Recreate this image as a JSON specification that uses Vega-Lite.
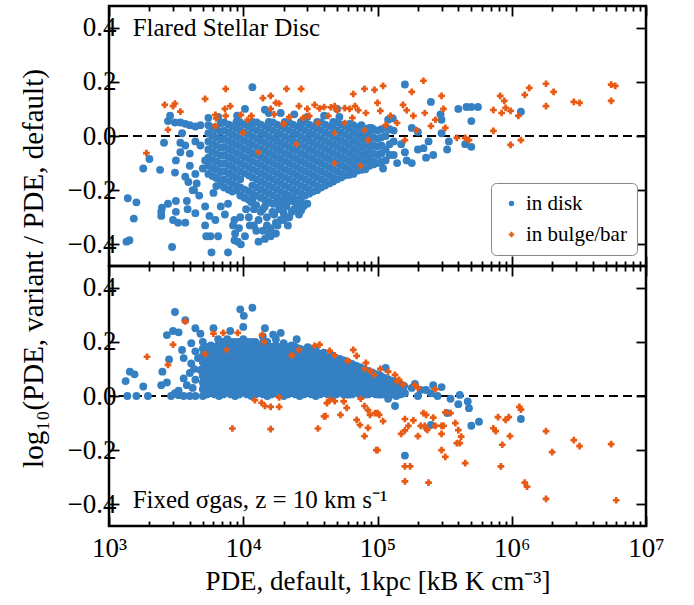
{
"$schema":"https://vega.github.io/schema/vega-lite/v6.json",
"background":"white",
"padding":{"left":17,"top":3,"right":5,"bottom":5},
"bounds":"flush",
"spacing":0,
"config":{"font":"Liberation Serif","view":{"stroke":"black","strokeWidth":2.5},
"axis":{"domain":false,"grid":false,"tickColor":"black","tickWidth":1.8,"labelFont":"Liberation Serif","labelFontSize":27,"labelColor":"black","titleFont":"Liberation Serif","titleFontSize":27,"titleFontWeight":"normal","titleColor":"black"}},
"datasets":{
"ta":[{"x":1350,"y":-0.39},{"x":1420,"y":-0.385},{"x":1380,"y":-0.23},{"x":1600,"y":-0.245},{"x":1530,"y":-0.305},{"x":1800,"y":-0.12},{"x":2000,"y":-0.085},{"x":2400,"y":-0.125},{"x":2570,"y":-0.025},{"x":2750,"y":0.055},{"x":2850,"y":0.075},{"x":2950,"y":-0.41},{"x":2450,"y":-0.28},{"x":2450,"y":-0.295},{"x":2480,"y":-0.265},{"x":2750,"y":-0.25},{"x":3150,"y":-0.28},{"x":3150,"y":-0.24},{"x":3270,"y":-0.32},{"x":3000,"y":-0.31},{"x":3700,"y":-0.32},{"x":3800,"y":-0.24},{"x":3850,"y":-0.27},{"x":4400,"y":-0.285},{"x":5200,"y":-0.26},{"x":5200,"y":-0.33},{"x":5300,"y":-0.37},{"x":5700,"y":-0.37},{"x":6500,"y":-0.37},{"x":5800,"y":-0.43},{"x":7700,"y":-0.43},{"x":8600,"y":-0.385},{"x":9600,"y":-0.4},{"x":9100,"y":-0.39},{"x":8400,"y":-0.33},{"x":8600,"y":-0.31},{"x":7300,"y":-0.29},{"x":6200,"y":-0.31},{"x":5600,"y":-0.295},{"x":6800,"y":-0.26},{"x":7700,"y":-0.25},{"x":4700,"y":-0.22},{"x":6000,"y":-0.21},{"x":4300,"y":-0.2},{"x":3700,"y":-0.15},{"x":3100,"y":-0.135},{"x":3150,"y":-0.09},{"x":3400,"y":-0.06},{"x":3400,"y":-0.025},{"x":3700,"y":-0.035},{"x":3500,"y":0.01},{"x":3100,"y":0.05},{"x":3400,"y":0.05},{"x":3700,"y":0.045},{"x":4000,"y":0.04},{"x":4400,"y":0.035},{"x":4800,"y":0.04},{"x":5500,"y":0.067},{"x":4000,"y":-0.11},{"x":4400,"y":-0.14},{"x":4500,"y":-0.175},{"x":4200,"y":-0.2},{"x":4000,"y":-0.065},{"x":4800,"y":-0.035},{"x":5200,"y":-0.09},{"x":4400,"y":-0.02},{"x":3900,"y":-0.17},{"x":5000,"y":-0.12},
{"x":11000,"y":-0.3},{"x":12000,"y":-0.33},{"x":13000,"y":-0.39},{"x":14000,"y":-0.35},{"x":16000,"y":-0.34},{"x":16000,"y":-0.37},{"x":17500,"y":-0.36},{"x":19000,"y":-0.31},{"x":18000,"y":-0.33},{"x":13500,"y":-0.28},{"x":15000,"y":-0.3},{"x":17000,"y":-0.29},{"x":20000,"y":-0.285},{"x":22000,"y":-0.3},{"x":21000,"y":-0.26},{"x":24000,"y":-0.27},{"x":26000,"y":-0.29},{"x":28000,"y":-0.26},{"x":12500,"y":-0.255},{"x":14500,"y":-0.26},{"x":19000,"y":-0.25},{"x":23000,"y":-0.24},{"x":30000,"y":-0.25},{"x":10500,"y":-0.27},{"x":9500,"y":-0.3},{"x":11500,"y":-0.245},{"x":10300,"y":-0.37},{"x":8700,"y":-0.36},{"x":9300,"y":-0.34},
{"x":12000,"y":-0.27},{"x":13000,"y":-0.31},{"x":14000,"y":-0.27},{"x":15000,"y":-0.33},{"x":16500,"y":-0.28},{"x":17500,"y":-0.32},{"x":18500,"y":-0.27},{"x":20000,"y":-0.31},{"x":21500,"y":-0.33},{"x":23000,"y":-0.28},{"x":25000,"y":-0.255},{"x":27000,"y":-0.275},{"x":15500,"y":-0.36},{"x":14500,"y":-0.38},{"x":12500,"y":-0.35},{"x":11200,"y":-0.33},{"x":10200,"y":-0.138},{"x":11000,"y":-0.145},
{"x":5500,"y":0.04},{"x":5500,"y":0.01},{"x":5500,"y":-0.02},{"x":5500,"y":-0.05},{"x":5500,"y":-0.08},{"x":5500,"y":-0.11},{"x":5500,"y":-0.14},
{"x":5900,"y":0.032},{"x":5900,"y":0.002},{"x":5900,"y":-0.028},{"x":5900,"y":-0.058},{"x":5900,"y":-0.088},{"x":5900,"y":-0.118},{"x":5900,"y":-0.148},
{"x":6300,"y":0.025},{"x":6300,"y":-0.005},{"x":6300,"y":-0.035},{"x":6300,"y":-0.065},{"x":6300,"y":-0.095},{"x":6300,"y":-0.125},{"x":6300,"y":-0.155},{"x":6300,"y":-0.185},
{"x":6800,"y":0.047},{"x":6800,"y":0.017},{"x":6800,"y":-0.013},{"x":6800,"y":-0.043},{"x":6800,"y":-0.073},{"x":6800,"y":-0.103},{"x":6800,"y":-0.133},{"x":6800,"y":-0.163},{"x":6800,"y":-0.18},
{"x":7200,"y":0.05},{"x":7200,"y":0.02},{"x":7200,"y":-0.01},{"x":7200,"y":-0.04},{"x":7200,"y":-0.07},{"x":7200,"y":-0.1},{"x":7200,"y":-0.13},{"x":7200,"y":-0.16},{"x":7200,"y":-0.19},
{"x":7800,"y":0.042},{"x":7800,"y":0.012},{"x":7800,"y":-0.018},{"x":7800,"y":-0.048},{"x":7800,"y":-0.078},{"x":7800,"y":-0.108},{"x":7800,"y":-0.138},{"x":7800,"y":-0.168},{"x":7800,"y":-0.198},
{"x":8300,"y":0.035},{"x":8300,"y":0.005},{"x":8300,"y":-0.025},{"x":8300,"y":-0.055},{"x":8300,"y":-0.085},{"x":8300,"y":-0.115},{"x":8300,"y":-0.145},{"x":8300,"y":-0.175},{"x":8300,"y":-0.205},
{"x":8900,"y":0.052},{"x":8900,"y":0.027},{"x":8900,"y":-0.003},{"x":8900,"y":-0.033},{"x":8900,"y":-0.063},{"x":8900,"y":-0.093},{"x":8900,"y":-0.123},{"x":8900,"y":-0.153},{"x":8900,"y":-0.183},{"x":8900,"y":-0.2},
{"x":9500,"y":0.05},{"x":9500,"y":0.02},{"x":9500,"y":-0.01},{"x":9500,"y":-0.04},{"x":9500,"y":-0.07},{"x":9500,"y":-0.1},{"x":9500,"y":-0.13},{"x":9500,"y":-0.16},{"x":9500,"y":-0.19},{"x":9500,"y":-0.22},
{"x":10200,"y":0.042},{"x":10200,"y":0.012},{"x":10200,"y":-0.018},{"x":10200,"y":-0.048},{"x":10200,"y":-0.078},{"x":10200,"y":-0.108},{"x":10200,"y":-0.198},{"x":10200,"y":-0.228},
{"x":11000,"y":0.035},{"x":11000,"y":0.005},{"x":11000,"y":-0.025},{"x":11000,"y":-0.055},{"x":11000,"y":-0.085},{"x":11000,"y":-0.115},{"x":11000,"y":-0.205},{"x":11000,"y":-0.235},
{"x":11700,"y":0.052},{"x":11700,"y":0.027},{"x":11700,"y":-0.003},{"x":11700,"y":-0.033},{"x":11700,"y":-0.063},{"x":11700,"y":-0.093},{"x":11700,"y":-0.123},{"x":11700,"y":-0.153},{"x":11700,"y":-0.183},{"x":11700,"y":-0.213},{"x":11700,"y":-0.235},
{"x":12600,"y":0.05},{"x":12600,"y":0.02},{"x":12600,"y":-0.01},{"x":12600,"y":-0.04},{"x":12600,"y":-0.07},{"x":12600,"y":-0.1},{"x":12600,"y":-0.13},{"x":12600,"y":-0.16},{"x":12600,"y":-0.19},{"x":12600,"y":-0.22},
{"x":13500,"y":0.042},{"x":13500,"y":0.012},{"x":13500,"y":-0.018},{"x":13500,"y":-0.048},{"x":13500,"y":-0.078},{"x":13500,"y":-0.108},{"x":13500,"y":-0.138},{"x":13500,"y":-0.168},{"x":13500,"y":-0.198},{"x":13500,"y":-0.228},
{"x":14500,"y":0.035},{"x":14500,"y":0.005},{"x":14500,"y":-0.025},{"x":14500,"y":-0.055},{"x":14500,"y":-0.085},{"x":14500,"y":-0.115},{"x":14500,"y":-0.145},{"x":14500,"y":-0.175},{"x":14500,"y":-0.205},{"x":14500,"y":-0.235},
{"x":15500,"y":0.052},{"x":15500,"y":0.027},{"x":15500,"y":-0.003},{"x":15500,"y":-0.033},{"x":15500,"y":-0.063},{"x":15500,"y":-0.093},{"x":15500,"y":-0.123},{"x":15500,"y":-0.153},{"x":15500,"y":-0.183},{"x":15500,"y":-0.213},{"x":15500,"y":-0.243},
{"x":16600,"y":0.05},{"x":16600,"y":0.02},{"x":16600,"y":-0.01},{"x":16600,"y":-0.04},{"x":16600,"y":-0.07},{"x":16600,"y":-0.1},{"x":16600,"y":-0.13},{"x":16600,"y":-0.16},{"x":16600,"y":-0.19},{"x":16600,"y":-0.22},{"x":16600,"y":-0.25},
{"x":17800,"y":0.042},{"x":17800,"y":0.012},{"x":17800,"y":-0.018},{"x":17800,"y":-0.048},{"x":17800,"y":-0.078},{"x":17800,"y":-0.108},{"x":17800,"y":-0.138},{"x":17800,"y":-0.168},{"x":17800,"y":-0.198},{"x":17800,"y":-0.228},{"x":17800,"y":-0.25},
{"x":19000,"y":0.035},{"x":19000,"y":0.005},{"x":19000,"y":-0.025},{"x":19000,"y":-0.055},{"x":19000,"y":-0.085},{"x":19000,"y":-0.115},{"x":19000,"y":-0.145},{"x":19000,"y":-0.175},{"x":19000,"y":-0.205},{"x":19000,"y":-0.235},
{"x":20400,"y":0.052},{"x":20400,"y":0.027},{"x":20400,"y":-0.003},{"x":20400,"y":-0.033},{"x":20400,"y":-0.063},{"x":20400,"y":-0.093},{"x":20400,"y":-0.123},{"x":20400,"y":-0.153},{"x":20400,"y":-0.183},{"x":20400,"y":-0.213},{"x":20400,"y":-0.235},
{"x":21900,"y":0.05},{"x":21900,"y":0.02},{"x":21900,"y":-0.01},{"x":21900,"y":-0.04},{"x":21900,"y":-0.07},{"x":21900,"y":-0.1},{"x":21900,"y":-0.13},{"x":21900,"y":-0.16},{"x":21900,"y":-0.19},{"x":21900,"y":-0.22},
{"x":23400,"y":0.042},{"x":23400,"y":0.012},{"x":23400,"y":-0.018},{"x":23400,"y":-0.048},{"x":23400,"y":-0.078},{"x":23400,"y":-0.108},{"x":23400,"y":-0.138},{"x":23400,"y":-0.168},{"x":23400,"y":-0.198},{"x":23400,"y":-0.228},
{"x":25100,"y":0.035},{"x":25100,"y":0.005},{"x":25100,"y":-0.025},{"x":25100,"y":-0.055},{"x":25100,"y":-0.085},{"x":25100,"y":-0.115},{"x":25100,"y":-0.145},{"x":25100,"y":-0.175},{"x":25100,"y":-0.205},{"x":25100,"y":-0.235},
{"x":26900,"y":0.052},{"x":26900,"y":0.027},{"x":26900,"y":-0.003},{"x":26900,"y":-0.033},{"x":26900,"y":-0.063},{"x":26900,"y":-0.093},{"x":26900,"y":-0.123},{"x":26900,"y":-0.153},{"x":26900,"y":-0.183},{"x":26900,"y":-0.213},{"x":26900,"y":-0.235},
{"x":28800,"y":0.05},{"x":28800,"y":0.02},{"x":28800,"y":-0.01},{"x":28800,"y":-0.04},{"x":28800,"y":-0.07},{"x":28800,"y":-0.1},{"x":28800,"y":-0.13},{"x":28800,"y":-0.16},{"x":28800,"y":-0.19},{"x":28800,"y":-0.22},
{"x":30900,"y":0.042},{"x":30900,"y":0.012},{"x":30900,"y":-0.018},{"x":30900,"y":-0.048},{"x":30900,"y":-0.078},{"x":30900,"y":-0.108},{"x":30900,"y":-0.138},{"x":30900,"y":-0.168},{"x":30900,"y":-0.198},{"x":30900,"y":-0.213},
{"x":33100,"y":0.035},{"x":33100,"y":0.005},{"x":33100,"y":-0.025},{"x":33100,"y":-0.055},{"x":33100,"y":-0.085},{"x":33100,"y":-0.115},{"x":33100,"y":-0.145},{"x":33100,"y":-0.175},{"x":33100,"y":-0.205},
{"x":35500,"y":0.052},{"x":35500,"y":0.027},{"x":35500,"y":-0.003},{"x":35500,"y":-0.033},{"x":35500,"y":-0.063},{"x":35500,"y":-0.093},{"x":35500,"y":-0.123},{"x":35500,"y":-0.153},{"x":35500,"y":-0.183},{"x":35500,"y":-0.2},
{"x":38000,"y":0.05},{"x":38000,"y":0.02},{"x":38000,"y":-0.01},{"x":38000,"y":-0.04},{"x":38000,"y":-0.07},{"x":38000,"y":-0.1},{"x":38000,"y":-0.13},{"x":38000,"y":-0.16},{"x":38000,"y":-0.19},
{"x":40700,"y":0.042},{"x":40700,"y":0.012},{"x":40700,"y":-0.018},{"x":40700,"y":-0.048},{"x":40700,"y":-0.078},{"x":40700,"y":-0.108},{"x":40700,"y":-0.138},{"x":40700,"y":-0.168},{"x":40700,"y":-0.183},
{"x":43700,"y":0.035},{"x":43700,"y":0.005},{"x":43700,"y":-0.025},{"x":43700,"y":-0.055},{"x":43700,"y":-0.085},{"x":43700,"y":-0.115},{"x":43700,"y":-0.145},{"x":43700,"y":-0.175},
{"x":46800,"y":0.052},{"x":46800,"y":0.027},{"x":46800,"y":-0.003},{"x":46800,"y":-0.033},{"x":46800,"y":-0.063},{"x":46800,"y":-0.093},{"x":46800,"y":-0.123},{"x":46800,"y":-0.153},{"x":46800,"y":-0.168},
{"x":50100,"y":0.05},{"x":50100,"y":0.02},{"x":50100,"y":-0.01},{"x":50100,"y":-0.04},{"x":50100,"y":-0.07},{"x":50100,"y":-0.1},{"x":50100,"y":-0.13},{"x":50100,"y":-0.16},
{"x":53700,"y":0.042},{"x":53700,"y":0.012},{"x":53700,"y":-0.018},{"x":53700,"y":-0.048},{"x":53700,"y":-0.078},{"x":53700,"y":-0.108},{"x":53700,"y":-0.138},{"x":53700,"y":-0.153},
{"x":57500,"y":0.035},{"x":57500,"y":0.005},{"x":57500,"y":-0.025},{"x":57500,"y":-0.055},{"x":57500,"y":-0.085},{"x":57500,"y":-0.115},{"x":57500,"y":-0.145},
{"x":61700,"y":0.045},{"x":61700,"y":0.027},{"x":61700,"y":-0.003},{"x":61700,"y":-0.033},{"x":61700,"y":-0.063},{"x":61700,"y":-0.093},{"x":61700,"y":-0.123},{"x":61700,"y":-0.143},
{"x":66100,"y":0.04},{"x":66100,"y":0.01},{"x":66100,"y":-0.02},{"x":66100,"y":-0.05},{"x":66100,"y":-0.08},{"x":66100,"y":-0.11},{"x":66100,"y":-0.14},
{"x":70800,"y":0.032},{"x":70800,"y":0.002},{"x":70800,"y":-0.028},{"x":70800,"y":-0.058},{"x":70800,"y":-0.088},{"x":70800,"y":-0.118},{"x":70800,"y":-0.128},
{"x":75900,"y":0.04},{"x":75900,"y":0.017},{"x":75900,"y":-0.013},{"x":75900,"y":-0.043},{"x":75900,"y":-0.073},{"x":75900,"y":-0.103},{"x":75900,"y":-0.125},
{"x":81300,"y":0.027},{"x":81300,"y":-0.003},{"x":81300,"y":-0.033},{"x":81300,"y":-0.063},{"x":81300,"y":-0.093},{"x":81300,"y":-0.123},
{"x":87100,"y":0.03},{"x":87100,"y":0.01},{"x":87100,"y":-0.02},{"x":87100,"y":-0.05},{"x":87100,"y":-0.08},{"x":87100,"y":-0.11},
{"x":93300,"y":0.025},{"x":93300,"y":-0.005},{"x":93300,"y":-0.035},{"x":93300,"y":-0.065},{"x":93300,"y":-0.095},{"x":93300,"y":-0.105},
{"x":100000,"y":0.02},{"x":100000,"y":-0.01},{"x":100000,"y":-0.04},{"x":100000,"y":-0.07},{"x":100000,"y":-0.1},
{"x":107000,"y":0.025},{"x":107000,"y":-0.005},{"x":107000,"y":-0.035},{"x":107000,"y":-0.065},{"x":107000,"y":-0.095},
{"x":115000,"y":0.03},{"x":115000,"y":0.0},{"x":115000,"y":-0.05},{"x":115000,"y":-0.09},
{"x":123000,"y":0.025},{"x":123000,"y":-0.03},{"x":123000,"y":-0.07},
{"x":132000,"y":0.02},{"x":132000,"y":-0.02},{"x":132000,"y":-0.07},
{"x":160000,"y":0.19},{"x":250000,"y":0.126},{"x":300000,"y":0.06},{"x":295000,"y":0.08},{"x":400000,"y":0.1},{"x":460000,"y":0.107},{"x":500000,"y":0.107},{"x":560000,"y":0.107},{"x":500000,"y":0.055},{"x":1170000,"y":0.09},{"x":450000,"y":-0.03},{"x":500000,"y":-0.04},{"x":340000,"y":-0.02},{"x":330000,"y":-0.05},{"x":240000,"y":-0.02},{"x":230000,"y":-0.08},{"x":260000,"y":-0.07},{"x":220000,"y":-0.045},{"x":300000,"y":0.01},{"x":200000,"y":-0.05},{"x":180000,"y":-0.1},{"x":165000,"y":-0.09},{"x":120000,"y":0.06},{"x":130000,"y":0.065},{"x":180000,"y":0.03},{"x":200000,"y":0.015},{"x":90000,"y":0.03},{"x":50000,"y":0.1},{"x":52000,"y":0.07},{"x":150000,"y":-0.03},{"x":140000,"y":-0.1},{"x":110000,"y":-0.12},{"x":160000,"y":-0.06},
{"x":11700,"y":0.18},{"x":10300,"y":0.1},{"x":14500,"y":0.097},{"x":15500,"y":0.085},{"x":19000,"y":0.085},{"x":6500,"y":0.07},{"x":9000,"y":0.075},{"x":24000,"y":0.08},{"x":30000,"y":0.07},{"x":40000,"y":0.075}],
"tb":[{"x":1900,"y":-0.063},{"x":2750,"y":0.023},{"x":2600,"y":0.115},{"x":3000,"y":0.11},{"x":3100,"y":0.12},{"x":3400,"y":0.09},{"x":5200,"y":0.137},{"x":6200,"y":0.078},{"x":6300,"y":0.065},{"x":7300,"y":0.1},{"x":7400,"y":0.074},{"x":7400,"y":0.174},{"x":8000,"y":0.11},{"x":9600,"y":0.078},{"x":11500,"y":0.074},{"x":10800,"y":0.06},{"x":14000,"y":0.14},{"x":16000,"y":0.148},{"x":17500,"y":0.122},{"x":18500,"y":0.12},{"x":21000,"y":0.174},{"x":27000,"y":0.174},{"x":26000,"y":0.11},{"x":16000,"y":0.1},{"x":17000,"y":0.08},{"x":20000,"y":0.045},{"x":22000,"y":0.07},{"x":6200,"y":0.037},{"x":10000,"y":0.012},{"x":30000,"y":0.1},{"x":34000,"y":0.115},{"x":37000,"y":0.102},{"x":40000,"y":0.107},{"x":45000,"y":0.106},{"x":48000,"y":0.11},{"x":50000,"y":0.095},{"x":57000,"y":0.103},{"x":62000,"y":0.1},{"x":66000,"y":0.155},{"x":68000,"y":0.11},{"x":72000,"y":0.095},{"x":80000,"y":0.174},{"x":82000,"y":0.085},{"x":95000,"y":0.17},{"x":100000,"y":0.122},{"x":105000,"y":0.093},{"x":110000,"y":0.185},{"x":115000,"y":0.04},{"x":125000,"y":0.074},{"x":140000,"y":0.048},{"x":155000,"y":0.115},{"x":165000,"y":0.095},{"x":180000,"y":0.163},{"x":185000,"y":0.074},{"x":195000,"y":0.022},{"x":220000,"y":0.204},{"x":225000,"y":0.085},{"x":250000,"y":0.037},{"x":270000,"y":0.06},{"x":300000,"y":0.148},{"x":310000,"y":0.1},{"x":320000,"y":0.03},{"x":390000,"y":-0.007},{"x":450000,"y":-0.007},{"x":480000,"y":-0.015},{"x":730000,"y":0.096},{"x":820000,"y":0.148},{"x":880000,"y":0.13},{"x":900000,"y":0.104},{"x":840000,"y":0.085},{"x":980000,"y":0.093},{"x":730000,"y":0.019},{"x":980000,"y":-0.033},{"x":1170000,"y":-0.015},{"x":1120000,"y":0.074},{"x":1250000,"y":0.152},{"x":1350000,"y":0.178},{"x":1800000,"y":0.193},{"x":2050000,"y":0.163},{"x":1800000,"y":0.11},{"x":2900000,"y":0.126},{"x":3200000,"y":0.122},{"x":5500000,"y":0.19},{"x":5900000,"y":0.185},{"x":5500000,"y":0.13},{"x":160000,"y":-0.015},{"x":85000,"y":-0.015},{"x":80000,"y":0.022},{"x":48000,"y":0.011},{"x":57000,"y":0.048},{"x":65000,"y":0.067},{"x":43000,"y":0.074},{"x":36000,"y":0.048},{"x":31000,"y":0.074},{"x":28000,"y":0.067},{"x":48000,"y":-0.1},{"x":75000,"y":-0.11},{"x":25000,"y":-0.03},{"x":13000,"y":-0.06}],
"ba":[{"x":1330,"y":0.055},{"x":1430,"y":0.09},{"x":1550,"y":0.08},{"x":1370,"y":0.0},{"x":1600,"y":0.0},{"x":1950,"y":0.0},{"x":1800,"y":0.035},{"x":2450,"y":0.04},{"x":2700,"y":0.05},{"x":2500,"y":0.09},{"x":2800,"y":0.135},{"x":2700,"y":0.225},{"x":3100,"y":0.31},{"x":3000,"y":0.24},{"x":3300,"y":0.235},{"x":3700,"y":0.28},{"x":2900,"y":0.0},{"x":3100,"y":0.01},{"x":3300,"y":0.003},{"x":3600,"y":0.0},{"x":4100,"y":0.195},{"x":4400,"y":0.165},{"x":3500,"y":0.17},{"x":3600,"y":0.14},{"x":4100,"y":0.12},{"x":4000,"y":0.085},{"x":3600,"y":0.065},{"x":3300,"y":0.02},{"x":4400,"y":0.06},{"x":4800,"y":0.096},{"x":4800,"y":0.23},{"x":4400,"y":0.25},{"x":6000,"y":0.25},{"x":6500,"y":0.21},{"x":8000,"y":0.24},{"x":9500,"y":0.32},{"x":10100,"y":0.296},{"x":11700,"y":0.326},{"x":10000,"y":0.255},{"x":14000,"y":0.22},{"x":14500,"y":0.25},{"x":16700,"y":0.226},{"x":19000,"y":0.233},{"x":17500,"y":0.21},{"x":25000,"y":0.21},{"x":4000,"y":0.0},{"x":4400,"y":0.0},{"x":4200,"y":0.03},{"x":3800,"y":0.04},{"x":4600,"y":0.14},{"x":4300,"y":0.1},
{"x":115000,"y":0.104},{"x":160000,"y":0.01},{"x":180000,"y":0.03},{"x":210000,"y":0.022},{"x":230000,"y":0.022},{"x":300000,"y":0.033},{"x":250000,"y":0.01},{"x":280000,"y":0.0},{"x":350000,"y":-0.01},{"x":410000,"y":0.004},{"x":470000,"y":-0.02},{"x":480000,"y":-0.045},{"x":570000,"y":-0.095},{"x":500000,"y":-0.11},{"x":330000,"y":-0.063},{"x":250000,"y":-0.107},{"x":160000,"y":-0.22},{"x":135000,"y":-0.037},{"x":120000,"y":-0.01},{"x":1170000,"y":-0.085},{"x":400000,"y":-0.03},{"x":200000,"y":0.0},{"x":145000,"y":0.02},{"x":260000,"y":0.04},{"x":190000,"y":0.045},
{"x":5000,"y":0},{"x":5000,"y":0.025},{"x":5000,"y":0.05},{"x":5000,"y":0.075},{"x":5000,"y":0.1},{"x":5000,"y":0.125},{"x":5000,"y":0.15},{"x":5000,"y":0.175},{"x":5000,"y":0.2},
{"x":5350,"y":0.006},{"x":5350,"y":0.031},{"x":5350,"y":0.056},{"x":5350,"y":0.081},{"x":5350,"y":0.106},{"x":5350,"y":0.131},{"x":5350,"y":0.156},{"x":5350,"y":0.181},
{"x":5750,"y":0.012},{"x":5750,"y":0.037},{"x":5750,"y":0.062},{"x":5750,"y":0.087},{"x":5750,"y":0.112},{"x":5750,"y":0.137},{"x":5750,"y":0.162},{"x":5750,"y":0.187},
{"x":6150,"y":0.006},{"x":6150,"y":0.031},{"x":6150,"y":0.056},{"x":6150,"y":0.081},{"x":6150,"y":0.106},{"x":6150,"y":0.131},{"x":6150,"y":0.156},{"x":6150,"y":0.181},
{"x":6600,"y":0},{"x":6600,"y":0.025},{"x":6600,"y":0.05},{"x":6600,"y":0.075},{"x":6600,"y":0.1},{"x":6600,"y":0.125},{"x":6600,"y":0.15},{"x":6600,"y":0.175},{"x":6600,"y":0.2},
{"x":7100,"y":0.006},{"x":7100,"y":0.031},{"x":7100,"y":0.056},{"x":7100,"y":0.081},{"x":7100,"y":0.106},{"x":7100,"y":0.131},{"x":7100,"y":0.156},{"x":7100,"y":0.181},{"x":7100,"y":0.2},
{"x":7600,"y":0.012},{"x":7600,"y":0.037},{"x":7600,"y":0.062},{"x":7600,"y":0.087},{"x":7600,"y":0.112},{"x":7600,"y":0.137},{"x":7600,"y":0.162},{"x":7600,"y":0.187},{"x":7600,"y":0.21},
{"x":8100,"y":0.006},{"x":8100,"y":0.031},{"x":8100,"y":0.056},{"x":8100,"y":0.081},{"x":8100,"y":0.106},{"x":8100,"y":0.131},{"x":8100,"y":0.156},{"x":8100,"y":0.181},{"x":8100,"y":0.2},
{"x":8700,"y":0},{"x":8700,"y":0.025},{"x":8700,"y":0.05},{"x":8700,"y":0.075},{"x":8700,"y":0.1},{"x":8700,"y":0.125},{"x":8700,"y":0.15},{"x":8700,"y":0.175},{"x":8700,"y":0.2},
{"x":9300,"y":0.006},{"x":9300,"y":0.031},{"x":9300,"y":0.056},{"x":9300,"y":0.081},{"x":9300,"y":0.106},{"x":9300,"y":0.131},{"x":9300,"y":0.156},{"x":9300,"y":0.181},{"x":9300,"y":0.2},
{"x":10000,"y":0.012},{"x":10000,"y":0.037},{"x":10000,"y":0.062},{"x":10000,"y":0.087},{"x":10000,"y":0.112},{"x":10000,"y":0.137},{"x":10000,"y":0.162},{"x":10000,"y":0.187},{"x":10000,"y":0.21},
{"x":10700,"y":0.006},{"x":10700,"y":0.031},{"x":10700,"y":0.056},{"x":10700,"y":0.081},{"x":10700,"y":0.106},{"x":10700,"y":0.131},{"x":10700,"y":0.156},{"x":10700,"y":0.181},{"x":10700,"y":0.2},
{"x":11500,"y":0},{"x":11500,"y":0.025},{"x":11500,"y":0.05},{"x":11500,"y":0.075},{"x":11500,"y":0.1},{"x":11500,"y":0.125},{"x":11500,"y":0.15},{"x":11500,"y":0.175},{"x":11500,"y":0.2},
{"x":12300,"y":0.006},{"x":12300,"y":0.031},{"x":12300,"y":0.056},{"x":12300,"y":0.081},{"x":12300,"y":0.106},{"x":12300,"y":0.131},{"x":12300,"y":0.156},{"x":12300,"y":0.181},{"x":12300,"y":0.2},
{"x":13200,"y":0.012},{"x":13200,"y":0.037},{"x":13200,"y":0.062},{"x":13200,"y":0.087},{"x":13200,"y":0.112},{"x":13200,"y":0.137},{"x":13200,"y":0.162},{"x":13200,"y":0.187},
{"x":14100,"y":0.006},{"x":14100,"y":0.031},{"x":14100,"y":0.056},{"x":14100,"y":0.081},{"x":14100,"y":0.106},{"x":14100,"y":0.131},{"x":14100,"y":0.156},{"x":14100,"y":0.181},{"x":14100,"y":0.2},
{"x":15100,"y":0},{"x":15100,"y":0.025},{"x":15100,"y":0.05},{"x":15100,"y":0.075},{"x":15100,"y":0.1},{"x":15100,"y":0.125},{"x":15100,"y":0.15},{"x":15100,"y":0.175},{"x":15100,"y":0.2},
{"x":16200,"y":0.006},{"x":16200,"y":0.031},{"x":16200,"y":0.056},{"x":16200,"y":0.081},{"x":16200,"y":0.106},{"x":16200,"y":0.131},{"x":16200,"y":0.156},{"x":16200,"y":0.181},
{"x":17400,"y":0.012},{"x":17400,"y":0.037},{"x":17400,"y":0.062},{"x":17400,"y":0.087},{"x":17400,"y":0.112},{"x":17400,"y":0.137},{"x":17400,"y":0.162},{"x":17400,"y":0.187},
{"x":18600,"y":0.006},{"x":18600,"y":0.031},{"x":18600,"y":0.056},{"x":18600,"y":0.081},{"x":18600,"y":0.106},{"x":18600,"y":0.131},{"x":18600,"y":0.156},{"x":18600,"y":0.181},
{"x":20000,"y":0},{"x":20000,"y":0.025},{"x":20000,"y":0.05},{"x":20000,"y":0.075},{"x":20000,"y":0.1},{"x":20000,"y":0.125},{"x":20000,"y":0.15},{"x":20000,"y":0.175},{"x":20000,"y":0.195},
{"x":21400,"y":0.006},{"x":21400,"y":0.031},{"x":21400,"y":0.056},{"x":21400,"y":0.081},{"x":21400,"y":0.106},{"x":21400,"y":0.131},{"x":21400,"y":0.156},{"x":21400,"y":0.181},
{"x":22900,"y":0.012},{"x":22900,"y":0.037},{"x":22900,"y":0.062},{"x":22900,"y":0.087},{"x":22900,"y":0.112},{"x":22900,"y":0.137},{"x":22900,"y":0.162},{"x":22900,"y":0.187},
{"x":24500,"y":0.006},{"x":24500,"y":0.031},{"x":24500,"y":0.056},{"x":24500,"y":0.081},{"x":24500,"y":0.106},{"x":24500,"y":0.131},{"x":24500,"y":0.156},{"x":24500,"y":0.181},
{"x":26300,"y":0},{"x":26300,"y":0.025},{"x":26300,"y":0.05},{"x":26300,"y":0.075},{"x":26300,"y":0.1},{"x":26300,"y":0.125},{"x":26300,"y":0.15},{"x":26300,"y":0.175},
{"x":28200,"y":0.006},{"x":28200,"y":0.031},{"x":28200,"y":0.056},{"x":28200,"y":0.081},{"x":28200,"y":0.106},{"x":28200,"y":0.131},{"x":28200,"y":0.156},{"x":28200,"y":0.17},
{"x":30200,"y":0.012},{"x":30200,"y":0.037},{"x":30200,"y":0.062},{"x":30200,"y":0.087},{"x":30200,"y":0.112},{"x":30200,"y":0.137},{"x":30200,"y":0.162},{"x":30200,"y":0.18},
{"x":32400,"y":0.006},{"x":32400,"y":0.031},{"x":32400,"y":0.056},{"x":32400,"y":0.081},{"x":32400,"y":0.106},{"x":32400,"y":0.131},{"x":32400,"y":0.156},{"x":32400,"y":0.17},
{"x":34700,"y":0},{"x":34700,"y":0.025},{"x":34700,"y":0.05},{"x":34700,"y":0.075},{"x":34700,"y":0.1},{"x":34700,"y":0.125},{"x":34700,"y":0.15},{"x":34700,"y":0.17},
{"x":37200,"y":0.006},{"x":37200,"y":0.031},{"x":37200,"y":0.056},{"x":37200,"y":0.081},{"x":37200,"y":0.106},{"x":37200,"y":0.131},{"x":37200,"y":0.156},
{"x":39800,"y":0.012},{"x":39800,"y":0.037},{"x":39800,"y":0.062},{"x":39800,"y":0.087},{"x":39800,"y":0.112},{"x":39800,"y":0.137},{"x":39800,"y":0.16},
{"x":42700,"y":0.006},{"x":42700,"y":0.031},{"x":42700,"y":0.056},{"x":42700,"y":0.081},{"x":42700,"y":0.106},{"x":42700,"y":0.131},{"x":42700,"y":0.145},
{"x":45700,"y":0},{"x":45700,"y":0.025},{"x":45700,"y":0.05},{"x":45700,"y":0.075},{"x":45700,"y":0.1},{"x":45700,"y":0.125},{"x":45700,"y":0.15},
{"x":49000,"y":0.006},{"x":49000,"y":0.031},{"x":49000,"y":0.056},{"x":49000,"y":0.081},{"x":49000,"y":0.106},{"x":49000,"y":0.131},
{"x":52500,"y":0.012},{"x":52500,"y":0.037},{"x":52500,"y":0.062},{"x":52500,"y":0.087},{"x":52500,"y":0.112},{"x":52500,"y":0.137},
{"x":56200,"y":0.006},{"x":56200,"y":0.031},{"x":56200,"y":0.056},{"x":56200,"y":0.081},{"x":56200,"y":0.106},{"x":56200,"y":0.131},
{"x":60300,"y":0.005},{"x":60300,"y":0.025},{"x":60300,"y":0.05},{"x":60300,"y":0.075},{"x":60300,"y":0.1},{"x":60300,"y":0.125},
{"x":64500,"y":0.006},{"x":64500,"y":0.031},{"x":64500,"y":0.056},{"x":64500,"y":0.081},{"x":64500,"y":0.106},{"x":64500,"y":0.118},
{"x":69200,"y":0.012},{"x":69200,"y":0.037},{"x":69200,"y":0.062},{"x":69200,"y":0.087},{"x":69200,"y":0.112},
{"x":74000,"y":0.006},{"x":74000,"y":0.031},{"x":74000,"y":0.056},{"x":74000,"y":0.081},{"x":74000,"y":0.106},
{"x":79400,"y":0.005},{"x":79400,"y":0.025},{"x":79400,"y":0.05},{"x":79400,"y":0.075},{"x":79400,"y":0.1},
{"x":85000,"y":0.006},{"x":85000,"y":0.031},{"x":85000,"y":0.056},{"x":85000,"y":0.081},{"x":85000,"y":0.093},
{"x":91200,"y":0.012},{"x":91200,"y":0.037},{"x":91200,"y":0.062},{"x":91200,"y":0.087},
{"x":97600,"y":0.006},{"x":97600,"y":0.031},{"x":97600,"y":0.056},{"x":97600,"y":0.081},
{"x":105000,"y":0.005},{"x":105000,"y":0.025},{"x":105000,"y":0.05},{"x":105000,"y":0.075},
{"x":112000,"y":0.006},{"x":112000,"y":0.031},{"x":112000,"y":0.056},{"x":112000,"y":0.068},
{"x":120000,"y":0.012},{"x":120000,"y":0.037},{"x":120000,"y":0.062},
{"x":129000,"y":0.006},{"x":129000,"y":0.031},{"x":129000,"y":0.056},
{"x":138000,"y":0.0},{"x":138000,"y":0.025},{"x":138000,"y":0.05},
{"x":148000,"y":0.006},{"x":148000,"y":0.031},{"x":148000,"y":0.043},
{"x":158000,"y":0.012},{"x":158000,"y":0.037}],
"bb":[{"x":1920,"y":0.145},{"x":3000,"y":0.19},{"x":2750,"y":0.115},{"x":3700,"y":0.275},{"x":5200,"y":0.155},{"x":6000,"y":0.23},{"x":7100,"y":0.233},{"x":9100,"y":0.233},{"x":7500,"y":0.17},{"x":8300,"y":-0.12},{"x":16000,"y":-0.122},{"x":13800,"y":0.226},{"x":14300,"y":0.2},{"x":12200,"y":-0.015},{"x":13700,"y":-0.025},{"x":14500,"y":-0.037},{"x":16000,"y":-0.04},{"x":18500,"y":-0.04},{"x":18500,"y":-0.005},{"x":26000,"y":0.17},{"x":23000,"y":0.15},{"x":36000,"y":-0.12},{"x":37000,"y":0.19},{"x":34000,"y":0.185},{"x":40000,"y":-0.075},{"x":44000,"y":-0.015},{"x":44000,"y":0.167},{"x":48000,"y":0.15},{"x":66000,"y":0.17},{"x":70000,"y":0.148},{"x":82000,"y":0.122},{"x":80000,"y":0.1},{"x":88000,"y":0.093},{"x":95000,"y":0.078},{"x":42000,"y":-0.026},{"x":48000,"y":-0.019},{"x":56000,"y":-0.02},{"x":59000,"y":-0.044},{"x":53000,"y":-0.07},{"x":41000,"y":-0.074},{"x":70000,"y":-0.088},{"x":74000,"y":-0.107},{"x":85000,"y":-0.118},{"x":80000,"y":-0.148},{"x":88000,"y":-0.07},{"x":96000,"y":-0.063},{"x":103000,"y":-0.07},{"x":110000,"y":-0.093},{"x":100000,"y":-0.2},{"x":135000,"y":0.078},{"x":145000,"y":0.06},{"x":155000,"y":0.042},{"x":140000,"y":0.055},{"x":190000,"y":0.04},{"x":160000,"y":-0.085},{"x":160000,"y":-0.127},{"x":170000,"y":-0.11},{"x":160000,"y":-0.26},{"x":175000,"y":-0.26},{"x":160000,"y":-0.315},{"x":185000,"y":-0.09},{"x":220000,"y":-0.063},{"x":230000,"y":-0.12},{"x":225000,"y":-0.11},{"x":260000,"y":-0.08},{"x":235000,"y":-0.125},{"x":300000,"y":-0.11},{"x":230000,"y":-0.07},{"x":320000,"y":-0.06},{"x":300000,"y":-0.2},{"x":320000,"y":-0.225},{"x":400000,"y":-0.126},{"x":420000,"y":-0.15},{"x":380000,"y":-0.1},{"x":450000,"y":-0.248},{"x":730000,"y":-0.119},{"x":760000,"y":-0.13},{"x":850000,"y":-0.18},{"x":830000,"y":-0.26},{"x":790000,"y":-0.078},{"x":900000,"y":-0.088},{"x":950000,"y":-0.078},{"x":970000,"y":-0.148},{"x":1140000,"y":-0.04},{"x":1170000,"y":-0.05},{"x":1250000,"y":-0.32},{"x":1300000,"y":-0.335},{"x":1800000,"y":-0.13},{"x":1800000,"y":-0.38},{"x":2000000,"y":-0.207},{"x":2900000,"y":-0.163},{"x":3200000,"y":-0.185},{"x":5500000,"y":-0.178},{"x":6000000,"y":-0.385},{"x":98000,"y":-0.2},{"x":240000,"y":-0.32},{"x":390000,"y":-0.174},{"x":410000,"y":-0.174},{"x":300000,"y":-0.14},{"x":310000,"y":-0.11},{"x":350000,"y":-0.063},{"x":270000,"y":-0.11},{"x":200000,"y":-0.148},{"x":210000,"y":-0.11},{"x":150000,"y":-0.14},{"x":85000,"y":-0.052},{"x":100000,"y":-0.063},{"x":80000,"y":-0.037},{"x":75000,"y":-0.01},{"x":120000,"y":0.09},{"x":105000,"y":0.1},{"x":60000,"y":0.13},{"x":200000,"y":0.03},{"x":270000,"y":0.025}]
},
"resolve":{"scale":{"color":"shared","shape":"shared"}},
"vconcat":[
{"width":537,"height":260,
"resolve":{"axis":{"x":"independent","y":"independent"}},
"layer":[
{"data":{"values":[{}]},"mark":{"type":"rule","strokeDash":[9,5],"strokeWidth":2,"color":"black"},"encoding":{"y":{"datum":0,"type":"quantitative","scale":{"domain":[-0.48,0.48],"nice":false,"zero":false},"axis":null}}},
{"data":{"name":"ta"},"mark":{"type":"point","filled":true,"size":62,"opacity":1,"clip":true},
"encoding":{
"x":{"field":"x","type":"quantitative","scale":{"type":"log","domain":[1000,10000000],"nice":false},"axis":{"orient":"bottom","values":[1000,2000,3000,4000,5000,6000,7000,8000,9000,10000,20000,30000,40000,50000,60000,70000,80000,90000,100000,200000,300000,400000,500000,600000,700000,800000,900000,1000000,2000000,3000000,4000000,5000000,6000000,7000000,8000000,9000000,10000000],"labels":false,"title":null,"tickSize":{"condition":{"test":"datum.value==1000||datum.value==10000||datum.value==100000||datum.value==1000000||datum.value==10000000","value":-10},"value":-5}}},
"y":{"field":"y","type":"quantitative","scale":{"domain":[-0.48,0.48],"nice":false,"zero":false},"axis":{"orient":"left","values":[-0.4,-0.2,0,0.2,0.4],"format":".1f","tickSize":-10,"labelPadding":3,"title":"log₁₀(PDE, variant / PDE, default)","titleFontSize":29,"titleAngle":-90,"titleX":-76,"titleY":262,"titleAlign":"center","titleBaseline":"middle"}},
"color":{"datum":"in disk","type":"nominal","scale":{"domain":["in disk","in bulge/bar"],"range":["#3580c3","#e85a13"]},"legend":{"title":null,"orient":"none","legendX":382,"legendY":177,"labelFontSize":21,"labelFont":"Liberation Serif","labelColor":"black","symbolSize":30,"strokeColor":"#888888","cornerRadius":5,"padding":10,"fillColor":"white","rowPadding":9,"encode":{"legend":{"update":{"strokeWidth":{"value":2}}}}}},
"shape":{"datum":"in disk","type":"nominal","scale":{"domain":["in disk","in bulge/bar"],"range":["circle","cross"]},"legend":{"title":null,"orient":"none","legendX":382,"legendY":177,"labelFontSize":21,"labelFont":"Liberation Serif","labelColor":"black","symbolSize":30,"strokeColor":"#888888","cornerRadius":5,"padding":10,"fillColor":"white","rowPadding":9,"encode":{"legend":{"update":{"strokeWidth":{"value":2}}}}}}}},
{"data":{"name":"tb"},"mark":{"type":"point","filled":true,"size":45,"opacity":1,"clip":true},
"encoding":{
"x":{"field":"x","type":"quantitative","scale":{"type":"log","domain":[1000,10000000],"nice":false},"axis":{"orient":"top","values":[1000,2000,3000,4000,5000,6000,7000,8000,9000,10000,20000,30000,40000,50000,60000,70000,80000,90000,100000,200000,300000,400000,500000,600000,700000,800000,900000,1000000,2000000,3000000,4000000,5000000,6000000,7000000,8000000,9000000,10000000],"labels":false,"title":null,"tickSize":{"condition":{"test":"datum.value==1000||datum.value==10000||datum.value==100000||datum.value==1000000||datum.value==10000000","value":-10},"value":-5}}},
"y":{"field":"y","type":"quantitative","scale":{"domain":[-0.48,0.48],"nice":false,"zero":false},"axis":{"orient":"right","values":[-0.4,-0.2,0,0.2,0.4],"labels":false,"title":null,"tickSize":-10}},
"color":{"datum":"in bulge/bar","type":"nominal"},
"shape":{"datum":"in bulge/bar","type":"nominal"}}},
{"data":{"values":[{}]},"mark":{"type":"text","text":"Flared Stellar Disc","fontSize":25,"font":"Liberation Serif","align":"left","baseline":"middle","color":"black"},
"encoding":{"x":{"datum":1500,"type":"quantitative","scale":{"type":"log"},"axis":null},"y":{"datum":0.4,"type":"quantitative","axis":null}}}
]},
{"width":537,"height":260,
"resolve":{"axis":{"x":"independent","y":"independent"}},
"layer":[
{"data":{"values":[{}]},"mark":{"type":"rule","strokeDash":[9,5],"strokeWidth":2,"color":"black"},"encoding":{"y":{"datum":0,"type":"quantitative","scale":{"domain":[-0.48,0.48],"nice":false,"zero":false},"axis":null}}},
{"data":{"name":"ba"},"mark":{"type":"point","filled":true,"size":62,"opacity":1,"clip":true},
"encoding":{
"x":{"field":"x","type":"quantitative","scale":{"type":"log","domain":[1000,10000000],"nice":false},"axis":{"orient":"bottom","values":[1000,2000,3000,4000,5000,6000,7000,8000,9000,10000,20000,30000,40000,50000,60000,70000,80000,90000,100000,200000,300000,400000,500000,600000,700000,800000,900000,1000000,2000000,3000000,4000000,5000000,6000000,7000000,8000000,9000000,10000000],"labelExpr":"datum.value==1000?'10³':datum.value==10000?'10⁴':datum.value==100000?'10⁵':datum.value==1000000?'10⁶':datum.value==10000000?'10⁷':''","labelOverlap":false,"labelFlush":false,"labelBound":false,"labelPadding":19,"title":"PDE, default, 1kpc [kB K cm⁻³]","titlePadding":2,"tickSize":{"condition":{"test":"datum.value==1000||datum.value==10000||datum.value==100000||datum.value==1000000||datum.value==10000000","value":-10},"value":-5}}},
"y":{"field":"y","type":"quantitative","scale":{"domain":[-0.48,0.48],"nice":false,"zero":false},"axis":{"orient":"left","values":[-0.4,-0.2,0,0.2,0.4],"format":".1f","tickSize":-10,"labelPadding":3,"title":null}},
"color":{"datum":"in disk","type":"nominal"},
"shape":{"datum":"in disk","type":"nominal"}}},
{"data":{"name":"bb"},"mark":{"type":"point","filled":true,"size":45,"opacity":1,"clip":true},
"encoding":{
"x":{"field":"x","type":"quantitative","scale":{"type":"log","domain":[1000,10000000],"nice":false},"axis":{"orient":"top","values":[1000,2000,3000,4000,5000,6000,7000,8000,9000,10000,20000,30000,40000,50000,60000,70000,80000,90000,100000,200000,300000,400000,500000,600000,700000,800000,900000,1000000,2000000,3000000,4000000,5000000,6000000,7000000,8000000,9000000,10000000],"labels":false,"title":null,"tickSize":{"condition":{"test":"datum.value==1000||datum.value==10000||datum.value==100000||datum.value==1000000||datum.value==10000000","value":-10},"value":-5}}},
"y":{"field":"y","type":"quantitative","scale":{"domain":[-0.48,0.48],"nice":false,"zero":false},"axis":{"orient":"right","values":[-0.4,-0.2,0,0.2,0.4],"labels":false,"title":null,"tickSize":-10}},
"color":{"datum":"in bulge/bar","type":"nominal"},
"shape":{"datum":"in bulge/bar","type":"nominal"}}},
{"data":{"values":[{}]},"mark":{"type":"text","text":"Fixed σgas, z = 10 km s⁻¹","fontSize":25,"font":"Liberation Serif","align":"left","baseline":"middle","color":"black"},
"encoding":{"x":{"datum":1500,"type":"quantitative","scale":{"type":"log"},"axis":null},"y":{"datum":-0.385,"type":"quantitative","axis":null}}}
]}
]
}
